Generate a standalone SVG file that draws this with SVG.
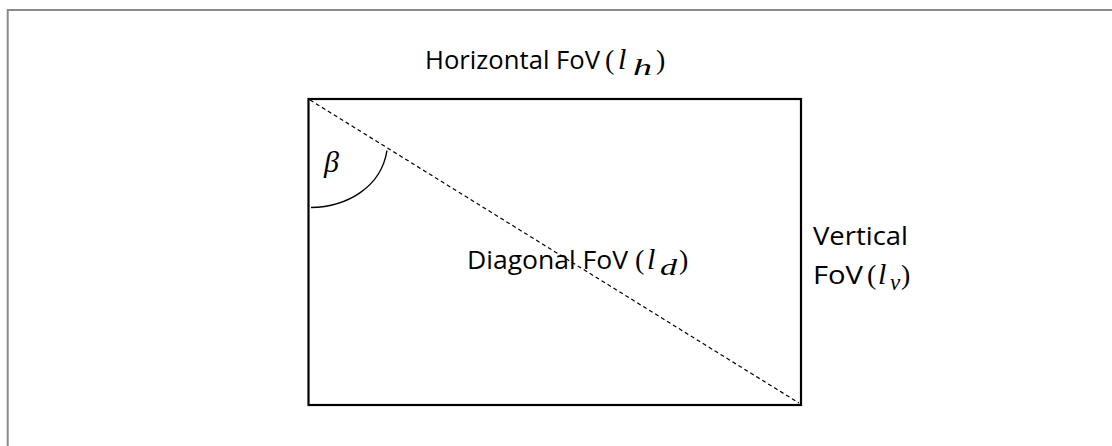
<svg xmlns="http://www.w3.org/2000/svg" width="1112" height="446" viewBox="0 0 1112 446">
  <style>
    .lbl { font-family: "Open Sans", Lato, "Liberation Sans", sans-serif; font-size: 26px; fill: #000; }
    .math { font-family: "Liberation Serif", "DejaVu Serif", serif; font-style: italic; font-size: 30px; fill: #000; }
    .sub { font-family: "Liberation Serif", "DejaVu Serif", serif; font-style: italic; font-size: 23px; fill: #000; }
    .par { font-family: "Liberation Serif", "DejaVu Serif", serif; font-size: 28px; fill: #000; }
  </style>
  <rect x="0" y="0" width="1112" height="446" fill="#ffffff"/>
  <!-- page frame: top and left edges only -->
  <path d="M7.7,446 V10 H1112" fill="none" stroke="#8a8a8a" stroke-width="2"/>

  <g id="frame">
    <rect x="308.5" y="99" width="492.5" height="306" fill="none" stroke="#000" stroke-width="2.2"/>
  </g>

  <g id="connectors">
    <!-- diagonal across the field of view -->
    <line x1="310" y1="100" x2="799" y2="403" stroke="#000" stroke-width="1.2" stroke-dasharray="4,3"/>
    <!-- angle arc -->
    <path d="M311,207.5 C346,207 381,188 387,150.5" fill="none" stroke="#000" stroke-width="1.4"/>
  </g>

  <g id="beta">
    <text class="math" x="324" y="172" font-size="32">β</text>
  </g>

  <g id="horizontal">
    <text class="lbl" x="425" y="69" textLength="175" lengthAdjust="spacingAndGlyphs">Horizontal FoV</text>
    <text class="par" x="605" y="69">(</text>
    <text class="math" x="618" y="69">l</text>
    <text class="sub" x="633" y="75" textLength="19" lengthAdjust="spacingAndGlyphs">h</text>
    <text class="par" x="656" y="69">)</text>
  </g>

  <g id="diagonal">
    <text class="lbl" x="467" y="269" textLength="161" lengthAdjust="spacingAndGlyphs">Diagonal FoV</text>
    <text class="par" x="635" y="269">(</text>
    <text class="math" x="647" y="269">l</text>
    <text class="sub" x="660" y="275" textLength="17" lengthAdjust="spacingAndGlyphs">d</text>
    <text class="par" x="679" y="269">)</text>
  </g>

  <g id="vertical">
    <text class="lbl" x="813" y="245" textLength="95" lengthAdjust="spacingAndGlyphs">Vertical</text>
    <text class="lbl" x="813" y="284" textLength="50" lengthAdjust="spacingAndGlyphs">FoV</text>
    <text class="par" x="867" y="284">(</text>
    <text class="math" x="878" y="284">l</text>
    <text class="sub" x="890" y="290">v</text>
    <text class="par" x="901" y="284">)</text>
  </g>
</svg>
